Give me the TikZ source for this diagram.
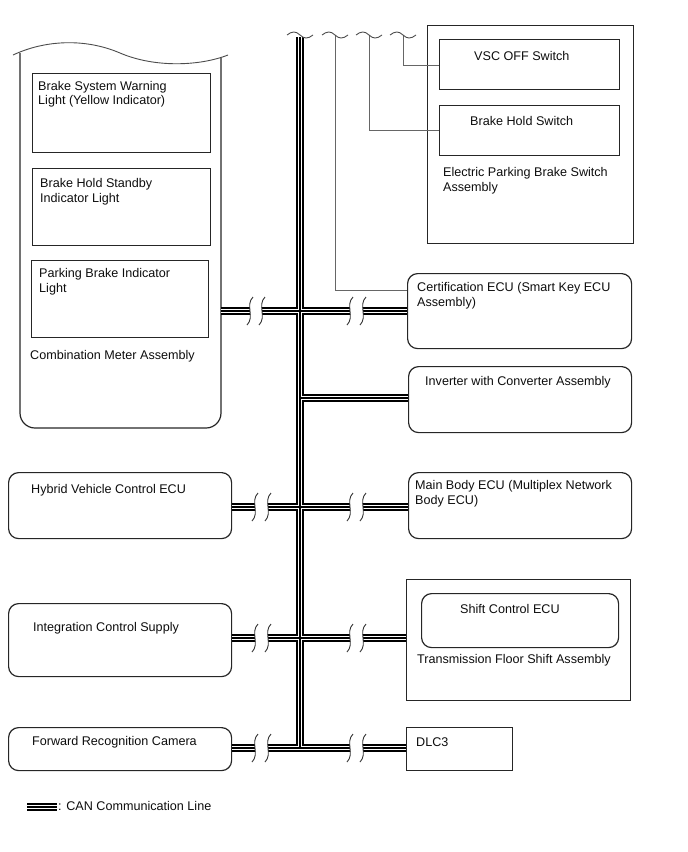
\documentclass[tikz,border=0pt]{standalone}
\usepackage{fontspec}
\setmainfont{Liberation Sans}
\begin{document}
\begin{tikzpicture}[x=1pt,y=-1pt,
  boxr/.style={draw=black!85, line width=1.2pt, rounded corners=10pt, anchor=north west, inner sep=0pt},
  boxs/.style={draw=black!85, line width=1.2pt, anchor=north west, inner sep=0pt},
  lbl/.style={anchor=west, align=left, inner sep=0pt, yshift=-1.5pt, text=black!95, font=\fontsize{12.6}{14.5}\selectfont},
  wire/.style={draw=black!60, line width=1pt},
  brkline/.style={line width=0.9pt, draw=black!80},
  tilde/.style={line width=0.9pt, draw=black!70}]
\useasboundingbox (0,0) rectangle (688,852);

% ---------- Combination meter ----------
\draw[line width=1.2pt, black!85, rounded corners=15pt] (20,53) -- (20,428) -- (221,428) -- (221,58);
\draw[tilde] (13,55) .. controls (45,40) and (85,38) .. (120,53) .. controls (155,68) and (200,66) .. (228,55);
\node[boxs, minimum width=178pt, minimum height=79pt] (bsw) at (32,73) {};
\node[boxs, minimum width=178pt, minimum height=77pt] (bhs) at (32,168) {};
\node[boxs, minimum width=177pt, minimum height=77pt] (pbi) at (31,260) {};
\node[lbl] at (38,92.5) {Brake System Warning\\Light (Yellow Indicator)};
\node[lbl] at (40,190) {Brake Hold Standby\\Indicator Light};
\node[lbl] at (39,280) {Parking Brake Indicator\\Light};
\node[lbl] at (30,355) {Combination Meter Assembly};
\coordinate (cmR) at (221,311);

% ---------- Electric parking brake switch assembly ----------
\node[boxs, minimum width=206pt, minimum height=218pt] (epb) at (427,25) {};
\node[boxs, minimum width=180pt, minimum height=50pt] (vsc) at (439,39) {};
\node[boxs, minimum width=180pt, minimum height=50pt] (bhsw) at (439,105) {};
\node[lbl] at (474,54) {VSC OFF Switch};
\node[lbl] at (470,119) {Brake Hold Switch};
\node[lbl] at (443,179) {Electric Parking Brake Switch\\Assembly};

% ---------- Right column ----------
\node[boxr, minimum width=224pt, minimum height=75pt] (cert) at (407,273) {};
\node[lbl] at (417,294) {Certification ECU (Smart Key ECU\\Assembly)};
\node[boxr, minimum width=223pt, minimum height=66pt] (inv) at (408,366) {};
\node[lbl] at (425,381) {Inverter with Converter Assembly};
\node[boxr, minimum width=223pt, minimum height=66pt] (mb) at (408,472) {};
\node[lbl] at (415,492) {Main Body ECU (Multiplex Network\\Body ECU)};
\node[boxs, minimum width=224pt, minimum height=121pt] (tfs) at (406,579) {};
\node[boxr, minimum width=197pt, minimum height=54pt] (sce) at (421,593) {};
\node[lbl] at (460,607) {Shift Control ECU};
\node[lbl] at (417,659) {Transmission Floor Shift Assembly};
\node[boxs, minimum width=106pt, minimum height=43pt] (dlc) at (406,727) {};
\node[lbl] at (416,741) {DLC3};

% ---------- Left column ----------
\node[boxr, minimum width=223pt, minimum height=66pt] (hv) at (8,472) {};
\node[lbl] at (31,489) {Hybrid Vehicle Control ECU};
\node[boxr, minimum width=223pt, minimum height=73pt] (ics) at (8,603) {};
\node[lbl] at (33,627) {Integration Control Supply};
\node[boxr, minimum width=223pt, minimum height=43pt] (frc) at (8,727) {};
\node[lbl] at (32,741) {Forward Recognition Camera};

% ---------- thin wires from the top ----------
\coordinate (w1) at (335,35);
\coordinate (w2) at (369,35);
\coordinate (w3) at (403,35);
\coordinate (r0a) at (0,290);
\coordinate (r0b) at (0,130);
\coordinate (r0c) at (0,65);
\draw[wire] (w3) |- (vsc.west |- r0c);
\draw[wire] (w2) |- (bhsw.west |- r0b);
\draw[wire] (w1) |- (cert.west |- r0a);
\foreach \x in {335,369,403}{
  \draw[tilde] (\x-13,35) .. controls (\x-8,31) and (\x-4,31) .. (\x,35)
               .. controls (\x+4,39) and (\x+8,39) .. (\x+13,35);
}

% ---------- CAN bus ----------
\coordinate (bt) at (300,37);
\coordinate (bb) at (300,748);
\coordinate (r1) at (0,311);
\coordinate (r2) at (0,398);
\coordinate (r3) at (0,507);
\coordinate (r4) at (0,638);
\coordinate (r5) at (0,748);
\coordinate (lg1) at (27,807);
\coordinate (lg2) at (57,807);
\def\buspath{
 (bt) -- (bb)
 (cmR) -- (250,311) (262,311) -- (350,311) (363,311) -- (cert.west |- r1)
 (bt |- r2) -- (inv.west |- r2)
 (hv.east |- r3) -- (255,507) (268,507) -- (350,507) (363,507) -- (mb.west |- r3)
 (ics.east |- r4) -- (255,638) (268,638) -- (350,638) (363,638) -- (tfs.west |- r4)
 (frc.east |- r5) -- (255,748) (268,748) -- (350,748) (363,748) -- (dlc.west |- r5)
 (lg1) -- (lg2)
}
\draw[line width=8pt, black] \buspath;
\draw[line width=4pt, white] \buspath;
\draw[line width=1.1pt, black] \buspath;
\draw[tilde] (287,35) .. controls (292,31) and (296,31) .. (300,35)
             .. controls (304,39) and (308,39) .. (313,35);

% ---------- break marks ----------
\foreach \x/\y in {250/311,262/311,350/311,363/311,
                   255/507,268/507,350/507,363/507,
                   255/638,268/638,350/638,363/638,
                   255/748,268/748,350/748,363/748}{
  \draw[brkline] (\x+3,\y-14) .. controls (\x-5,\y-6) and (\x+5,\y+6) .. (\x-3,\y+14);
}

% ---------- legend ----------
\node[lbl] at (58,804) {: CAN Communication Line};
\end{tikzpicture}
\end{document}
